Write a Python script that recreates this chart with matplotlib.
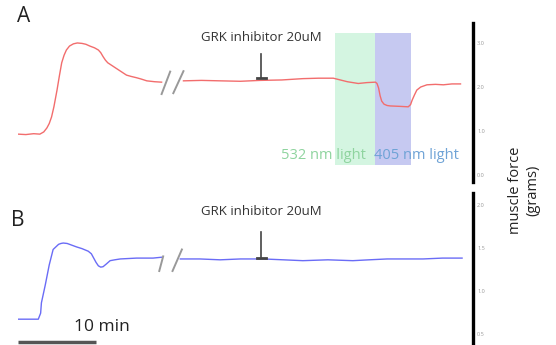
import matplotlib.pyplot as plt

plt.rcParams['font.family'] = ['Open Sans', 'DejaVu Sans']

# panel A trace (time in min, force in grams), before and after the break
a_t_pre = [0.0, 1.0, 2.0, 2.8, 3.3, 3.7, 4.0, 4.3, 4.6, 5.0, 5.3, 5.6, 5.9, 6.2, 6.6,
           7.1, 7.6, 8.2, 8.7, 9.2, 9.8, 10.3, 10.6, 10.9, 11.2, 11.5, 12.1, 12.7,
           13.3, 13.9, 14.5, 15.2, 15.8, 16.5, 17.5, 18.4]
a_g_pre = [0.93, 0.92, 0.94, 0.93, 0.98, 1.07, 1.17, 1.32, 1.55, 1.93, 2.25, 2.55,
           2.72, 2.84, 2.93, 2.98, 3.00, 2.99, 2.97, 2.93, 2.89, 2.84, 2.78, 2.69,
           2.61, 2.55, 2.48, 2.41, 2.34, 2.27, 2.24, 2.21, 2.18, 2.14, 2.12, 2.11]
a_t_post = [21.2, 23.5, 25.9, 28.5, 31.0, 33.8, 36.5, 38.5, 40.4, 41.3, 42.2, 43.6,
            44.7, 45.8, 46.0, 46.2, 46.4, 46.6, 46.9, 47.3, 47.7, 49.0, 50.0, 50.3,
            50.5, 50.8, 51.1, 51.6, 52.4, 53.5, 54.5, 55.6, 56.7]
a_g_post = [2.14, 2.15, 2.14, 2.13, 2.15, 2.16, 2.19, 2.20, 2.20, 2.16, 2.12, 2.08,
            2.10, 2.11, 2.08, 1.98, 1.80, 1.68, 1.61, 1.58, 1.57, 1.56, 1.55, 1.60,
            1.70, 1.82, 1.93, 2.00, 2.05, 2.06, 2.05, 2.07, 2.07]

# panel B trace
b_t_pre = [0.0, 1.3, 2.6, 2.9, 3.0, 3.5, 4.0, 4.5, 5.2, 5.5, 5.8, 6.3, 6.9, 7.5, 8.2,
           9.0, 9.4, 9.7, 10.0, 10.3, 10.6, 10.9, 11.3, 11.8, 12.4, 13.1, 15.2, 17.3,
           18.4]
b_g_pre = [0.67, 0.67, 0.67, 0.74, 0.86, 1.07, 1.30, 1.48, 1.54, 1.55, 1.555, 1.55,
           1.53, 1.51, 1.49, 1.46, 1.43, 1.38, 1.33, 1.29, 1.275, 1.28, 1.31, 1.35,
           1.36, 1.37, 1.38, 1.38, 1.39]
b_t_post = [20.8, 23.3, 25.9, 28.5, 31.4, 34.0, 36.5, 39.7, 42.9, 45.0, 47.3, 49.6,
            51.9, 54.4, 56.9]
b_g_post = [1.37, 1.37, 1.36, 1.37, 1.37, 1.36, 1.35, 1.36, 1.35, 1.36, 1.37, 1.37,
            1.37, 1.38, 1.38]

a_ticks = [0.0, 1.0, 2.0, 3.0]
b_ticks = [0.5, 1.0, 1.5, 2.0]
inhibitor_t = 31.2
green_span = (40.6, 45.8)
blue_span = (45.8, 50.4)
scale_min = 10

W, H = 556, 345
fig = plt.figure(figsize=(W / 100, H / 100), dpi=100)

left, right = 18 / W, 473 / W
axA = fig.add_axes([left, 1 - 181.7 / H, right - left, (181.7 - 22.7) / H])
axB = fig.add_axes([left, 0, right - left, (H - 192.7) / H])

red = '#f26d6d'
blue = '#6a6cf6'
grey = '#444444'

for ax, ticks, ylim in [(axA, a_ticks, (-0.15, 3.46)), (axB, b_ticks, (0.37, 2.14))]:
    ax.set_xlim(0, 58.3)
    ax.set_ylim(*ylim)
    for s in ['top', 'left', 'bottom']:
        ax.spines[s].set_visible(False)
    ax.spines['right'].set_linewidth(2.4)
    ax.yaxis.tick_right()
    ax.set_yticks(ticks)
    ax.set_yticklabels([f'{v:.1f}' for v in ticks])
    ax.tick_params(axis='y', length=0, pad=3, labelsize=4, labelcolor='#999999')
    ax.set_xticks([])
    ax.patch.set_alpha(0)

# panel A
span_lo, span_hi = (0.23 + 0.15) / 3.61, (3.23 + 0.15) / 3.61
axA.axvspan(*green_span, ymin=span_lo, ymax=span_hi, color='#d4f5e1', lw=0, zorder=0)
axA.axvspan(*blue_span, ymin=span_lo, ymax=span_hi, color='#c6c9f1', lw=0, zorder=0)
axA.plot(a_t_pre, a_g_pre, color=red, lw=1.0)
axA.plot(a_t_post, a_g_post, color=red, lw=1.0)
axA.plot([18.4, 19.5], [1.84, 2.35], color='#999999', lw=1.4)
axA.plot([19.9, 21.2], [1.86, 2.36], color='#999999', lw=1.4)
axA.plot([inhibitor_t, inhibitor_t], [2.75, 2.21], color=grey, lw=1.2)
axA.plot([inhibitor_t - 0.6, inhibitor_t + 0.6], [2.2, 2.2], color=grey, lw=2)
axA.text(inhibitor_t, 3.12, 'GRK inhibitor 20uM', ha='center', va='center',
         fontsize=9.5, color='#333333')
axA.text(44.6, 0.45, '532 nm light', ha='right', va='center', fontsize=10.5,
         color='#8fd49f')
axA.text(45.6, 0.45, '405 nm light', ha='left', va='center', fontsize=10.5,
         color='#6fa3d6', clip_on=False)

# panel B
axB.plot(b_t_pre, b_g_pre, color=blue, lw=1.0)
axB.plot(b_t_post, b_g_post, color=blue, lw=1.0)
axB.plot([18.1, 18.6], [1.23, 1.40], color='#999999', lw=1.4)
axB.plot([19.8, 21.0], [1.23, 1.48], color='#999999', lw=1.4)
axB.plot([inhibitor_t, inhibitor_t], [1.68, 1.39], color=grey, lw=1.2)
axB.plot([inhibitor_t - 0.6, inhibitor_t + 0.6], [1.385, 1.385], color=grey, lw=2)
axB.text(inhibitor_t, 1.92, 'GRK inhibitor 20uM', ha='center', va='center',
         fontsize=9.5, color='#333333')
axB.plot([0, scale_min], [0.41, 0.41], color='#555555', lw=2.5, clip_on=False,
         solid_capstyle='butt')
axB.text(7.2, 0.58, f'{scale_min} min', ha='left', va='center', fontsize=12.5,
         color='#222222')

fig.text(24 / W, 1 - 16 / H, 'A', ha='center', va='center', fontsize=15,
         color='#222222')
fig.text(18 / W, 1 - 220 / H, 'B', ha='center', va='center', fontsize=15,
         color='#222222')
fig.text(524 / W, 1 - 190 / H, 'muscle force\n(grams)', rotation=90, ha='center',
         va='center', fontsize=10.5, color='#222222', multialignment='center')

fig.savefig('out.png', dpi=100)
